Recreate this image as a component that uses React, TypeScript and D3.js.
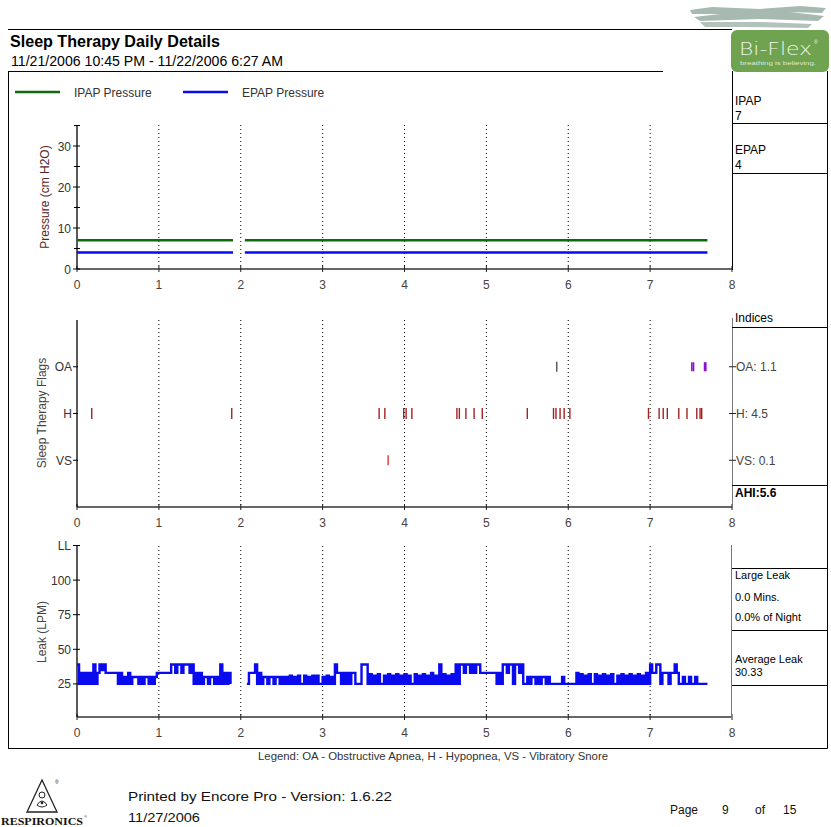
import React from 'react';
import * as d3 from 'd3';

// ---------- data ----------
const hourTicks = [0, 1, 2, 3, 4, 5, 6, 7, 8];
const gridHours = [1, 2, 3, 4, 5, 6, 7];
const pressureMajorTicks = [0, 10, 20, 30];
const pressureMinorTicks = [5, 15, 25, 35];
const sessionStart = [0, 2.05];
const sessionEnd = [1.905, 7.7];
const ipapValue = 7;
const epapValue = 4;

const flagCategories = ['OA', 'H', 'VS'];
const flagIndexLabels = ['OA: 1.1', 'H: 4.5', 'VS: 0.1'];
const hEvents = [0.18, 1.89, 3.69, 3.76, 3.99, 4.02, 4.09, 4.64, 4.67, 4.75, 4.85, 4.95, 5.5, 5.82, 5.85, 5.9, 5.95, 6.02, 6.98, 7.11, 7.16, 7.21, 7.35, 7.45, 7.57, 7.61, 7.63];
const oaEvents = [7.51, 7.53, 7.665, 7.68];
const otherOaEvents = [5.86];
const vsEvents = [3.8];

const leakTickValues = [25, 50, 75, 100, 125];
const leakTickLabels = ['25', '50', '75', '100', 'LL'];
const leakStepHours = 0.025;
const leakValues: (number | null)[] = [
  39, 25,
  33, 25, 33, 25, 33, 25,
  39,
  25, 33,
  39, 35, 39,
  33, 33, 33, 33, 33, 33,
  25, 33, 25, 30, 25, 33, 25, 30,
  30, 30, 25, 30, 25, 30, 30, 25, 30, 25, 30,
  33, 33, 33, 33, 33, 33, 33,
  39, 39, 33, 39, 39, 33, 39, 39, 39, 33, 39,
  25, 33, 25, 33, 25,
  30, 30, 25, 30, 30, 25, 30, 25,
  39,
  25, 33, 25, 33, 25,
  null, null, null, null, null, null, null,
  25, 33, 33, 33,
  39,
  25, 33, 25,
  30, 30, 25, 30, 30, 25, 30, 30, 25, 30, 25, 30,
  25, 31, 25, 30, 25, 31, 25, 25, 31, 25, 30, 25, 31, 25, 31, 25, 25, 30, 25, 31, 25, 30, 25,
  39,
  33, 33,
  25, 33, 25, 33, 25, 33,
  33, 25, 25, 25,
  39, 39, 39,
  25, 32, 25, 31, 25, 32, 25, 25, 31, 25, 32, 25, 31, 25, 32,
  25, 31, 25, 32, 25, 31, 25, 25, 32, 25, 31, 25, 32, 25, 31, 25, 33, 25, 31, 25,
  39,
  25, 32, 25, 31, 25, 32, 25,
  39, 25, 39, 39, 33, 39, 39, 33, 39, 33, 39, 39,
  33, 33, 33, 33, 33, 33, 33, 33,
  25, 33, 25,
  39, 39, 33, 39, 39, 25, 39, 39, 33, 39, 25,
  25, 30, 25, 30, 30, 25, 30, 25, 30, 30, 25, 30,
  25, 25, 25, 25, 25, 25, 30, 25, 25, 25, 25, 25, 25,
  33, 25, 32, 25, 31, 25, 32, 25, 25, 32, 25, 31, 25, 32, 25, 31, 25, 32, 25, 25, 31, 25, 32, 25, 31, 25, 32, 25, 31, 25, 32, 25, 31, 25, 33, 25,
  39, 33, 33, 39, 39, 25, 33, 33, 33, 25, 33, 33, 39, 33, 25, 25, 30, 25, 25, 30, 25, 25, 30, 25, 25, 25, 25, 25,
  25,
];

// ---------- layout ----------
const FONT = "'Liberation Sans', Arial, sans-serif";
const X0 = 77;
const X1 = 732;
const x = d3.scaleLinear().domain([0, 8]).range([X0, X1]);
const yP = d3.scaleLinear().domain([0, 35]).range([269, 125.5]);
const yF = d3.scalePoint<string>().domain(flagCategories).range([320, 507]).padding(1);
const yL = d3.scaleLinear().domain([0, 125]).range([718.5, 545.5]);

function XAxis({ y, top }: { y: number; top: number }) {
  return (
    <g>
      {gridHours.map((h) => (
        <line key={'g' + h} x1={x(h)} x2={x(h)} y1={top} y2={y} stroke="#000" strokeWidth={1} strokeDasharray="1,3" />
      ))}
      <line x1={X0} x2={X1} y1={y} y2={y} stroke="#666" strokeWidth={2} />
      {hourTicks.map((h) => (
        <g key={h}>
          <line x1={x(h)} x2={x(h)} y1={y - 3} y2={y + 3} stroke="#222" strokeWidth={1} />
          <text x={x(h)} y={y + 20} textAnchor="middle" fontSize={12} fill="#4a4040" fontFamily={FONT}>{h}</text>
        </g>
      ))}
    </g>
  );
}

export default function App() {
  const leakLine = d3
    .line<number | null>()
    .defined((d) => d != null)
    .x((_, i) => x(i * leakStepHours))
    .y((d) => yL(d as number))
    .curve(d3.curveStepAfter);

  const sessions = sessionStart.map((s, i) => [s, sessionEnd[i]]);

  return (
    <svg width={831} height={827} style={{ position: 'absolute', left: 0, top: 0, background: '#fff' }} fontFamily={FONT}>
      <rect x={0} y={0} width={831} height={827} fill="#fff" />
      {/* redaction blotch */}
      <path d="M690,10 L712,7 L760,9 L800,6 L826,8 L822,13 L790,12 L824,16 L818,21 L760,19 L700,21 L694,17 L720,14 L692,14 Z" fill="#a7bab2" />
      <path d="M700,22 L760,22 L812,24 L808,28 L740,27 L705,27 Z" fill="#b3c3bc" />

      {/* header */}
      <line x1={8} x2={732} y1={29.5} y2={29.5} stroke="#000" strokeWidth={1} />
      <text x={10} y={47} fontSize={16} fontWeight="bold" fill="#000" textLength={210} lengthAdjust="spacingAndGlyphs">Sleep Therapy Daily Details</text>
      <text x={11} y={65.5} fontSize={14} fill="#000" textLength={272} lengthAdjust="spacingAndGlyphs">11/21/2006 10:45 PM - 11/22/2006 6:27 AM</text>
      <line x1={8} x2={663} y1={71.5} y2={71.5} stroke="#000" strokeWidth={1} />

      {/* Bi-Flex logo */}
      <rect x={731} y={30} width={98} height={42} rx={6} fill="#6fa34f" />
      <text x={739} y={55} fontSize={18} fill="#eef4ea" fontFamily="'DejaVu Sans', sans-serif" fontWeight={300} textLength={73} lengthAdjust="spacingAndGlyphs">Bi-Flex</text>
      <text x={814} y={44} fontSize={5} fill="#eef4ea">®</text>
      <text x={740} y={65} fontSize={6} fill="#dfe9d8" textLength={76} lengthAdjust="spacingAndGlyphs">breathing is believing.</text>

      {/* main frame */}
      <line x1={8.5} x2={8.5} y1={71} y2={748.5} stroke="#000" strokeWidth={1} />
      <line x1={8} x2={827.5} y1={748.5} y2={748.5} stroke="#000" strokeWidth={1} />
      <line x1={827.5} x2={827.5} y1={71} y2={748.5} stroke="#000" strokeWidth={1} />

      {/* legend */}
      <line x1={15} x2={60} y1={92} y2={92} stroke="#0d6b0d" strokeWidth={2.5} />
      <text x={74} y={96.5} fontSize={12} fill="#333">IPAP Pressure</text>
      <line x1={183} x2={228} y1={92} y2={92} stroke="#0a0aee" strokeWidth={2.5} />
      <text x={242} y={96.5} fontSize={12} fill="#333">EPAP Pressure</text>

      {/* right panel top */}
      <line x1={732.5} x2={732.5} y1={71} y2={270} stroke="#000" strokeWidth={1} />
      <line x1={732} x2={827} y1={123.5} y2={123.5} stroke="#000" strokeWidth={1} />
      <line x1={732} x2={827} y1={173.5} y2={173.5} stroke="#000" strokeWidth={1} />
      <text x={735} y={105} fontSize={12} fill="#000">IPAP</text>
      <text x={735} y={120} fontSize={12} fill="#000">7</text>
      <text x={735} y={154} fontSize={12} fill="#000">EPAP</text>
      <text x={735} y={169} fontSize={12} fill="#000">4</text>

      {/* ---- pressure chart ---- */}
      <XAxis y={269} top={125} />
      <line x1={X0} x2={X0} y1={125} y2={269} stroke="#000" strokeWidth={1.3} />
      {pressureMajorTicks.map((v) => (
        <g key={v}>
          <line x1={X0 - 4} x2={X0 + 3} y1={yP(v)} y2={yP(v)} stroke="#000" strokeWidth={1} />
          <text x={X0 - 6} y={yP(v) + 4.5} textAnchor="end" fontSize={12} fill="#333">{v}</text>
        </g>
      ))}
      {pressureMinorTicks.map((v) => (
        <line key={v} x1={X0 - 3} x2={X0 + 3} y1={yP(v)} y2={yP(v)} stroke="#000" strokeWidth={1} />
      ))}
      <text transform="translate(49,197) rotate(-90)" textAnchor="middle" fontSize={12} fill="#5a2626">Pressure (cm H2O)</text>
      {sessions.map(([s, e], i) => (
        <g key={i}>
          <path d={`M${x(s)},${yP(ipapValue)}H${x(e)}`} stroke="#0d6b0d" strokeWidth={2.5} fill="none" />
          <path d={`M${x(s)},${yP(epapValue)}H${x(e)}`} stroke="#0a0aee" strokeWidth={2.5} fill="none" />
        </g>
      ))}

      {/* ---- flags chart ---- */}
      <XAxis y={507} top={320} />
      <line x1={X0} x2={X0} y1={320} y2={507} stroke="#000" strokeWidth={1.3} />
      {flagCategories.map((c) => (
        <g key={c}>
          <line x1={X0 - 4} x2={X0 + 1} y1={yF(c)!} y2={yF(c)!} stroke="#000" strokeWidth={1} />
          <text x={X0 - 5} y={(yF(c) as number) + 4.5} textAnchor="end" fontSize={12} fill="#333">{c}</text>
        </g>
      ))}
      <text transform="translate(46,413) rotate(-90)" textAnchor="middle" fontSize={12} fill="#444">Sleep Therapy Flags</text>
      <line x1={732.5} x2={732.5} y1={318} y2={508} stroke="#777" strokeWidth={1} />
      {flagCategories.map((c, i) => (
        <g key={'r' + c}>
          <line x1={729} x2={736} y1={yF(c)!} y2={yF(c)!} stroke="#222" strokeWidth={1} />
          <text x={736} y={(yF(c) as number) + 4.5} fontSize={12} fill="#444">{flagIndexLabels[i]}</text>
        </g>
      ))}
      <text x={735} y={322} fontSize={12} fill="#000">Indices</text>
      <line x1={732} x2={827} y1={327.5} y2={327.5} stroke="#000" strokeWidth={1} />
      <line x1={732} x2={827} y1={485.5} y2={485.5} stroke="#000" strokeWidth={1} />
      <text x={735} y={497} fontSize={12} fontWeight="bold" fill="#000">AHI:5.6</text>
      {hEvents.map((h, i) => (
        <line key={'h' + i} x1={x(h)} x2={x(h)} y1={yF('H')! - 5.5} y2={yF('H')! + 5.5} stroke="#a32323" strokeWidth={1.4} />
      ))}
      {oaEvents.map((h, i) => (
        <line key={'oa' + i} x1={x(h)} x2={x(h)} y1={yF('OA')! - 4.5} y2={yF('OA')! + 4.5} stroke="#8a10d0" strokeWidth={1.6} />
      ))}
      {otherOaEvents.map((h, i) => (
        <line key={'ob' + i} x1={x(h)} x2={x(h)} y1={yF('OA')! - 5} y2={yF('OA')! + 5} stroke="#333" strokeWidth={1.2} />
      ))}
      {vsEvents.map((h, i) => (
        <line key={'vs' + i} x1={x(h)} x2={x(h)} y1={yF('VS')! - 5} y2={yF('VS')! + 5} stroke="#e8303c" strokeWidth={1.4} />
      ))}

      {/* ---- leak chart ---- */}
      <XAxis y={717} top={546} />
      <line x1={X0} x2={X0} y1={546} y2={717} stroke="#000" strokeWidth={1.3} />
      {leakTickValues.map((v, i) => (
        <g key={v}>
          <line x1={X0 - 4} x2={X0 + 3} y1={yL(v)} y2={yL(v)} stroke="#000" strokeWidth={1} />
          <text x={X0 - 6} y={yL(v) + 4.5} textAnchor="end" fontSize={12} fill="#333">{leakTickLabels[i]}</text>
        </g>
      ))}
      <text transform="translate(46,632) rotate(-90)" textAnchor="middle" fontSize={12} fill="#444">Leak (LPM)</text>
      <line x1={731.5} x2={731.5} y1={545} y2={718} stroke="#777" strokeWidth={1} />
      <line x1={732} x2={827} y1={568.5} y2={568.5} stroke="#000" strokeWidth={1} />
      <line x1={732} x2={827} y1={630.5} y2={630.5} stroke="#000" strokeWidth={1} />
      <line x1={732} x2={827} y1={685.5} y2={685.5} stroke="#000" strokeWidth={1} />
      <text x={735} y={579} fontSize={11} fill="#000">Large Leak</text>
      <text x={735} y={601} fontSize={11} fill="#000">0.0 Mins.</text>
      <text x={735} y={621} fontSize={11} fill="#000">0.0% of Night</text>
      <text x={735} y={663} fontSize={11} fill="#000">Average Leak</text>
      <text x={735} y={676} fontSize={11} fill="#000">30.33</text>
      <path d={leakLine(leakValues) || ''} stroke="#0a0aee" strokeWidth={2.4} fill="none" />

      {/* footer */}
      <text x={258} y={760} fontSize={11} fill="#333" textLength={350} lengthAdjust="spacingAndGlyphs">Legend: OA - Obstructive Apnea, H - Hypopnea, VS - Vibratory Snore</text>
      <text x={128} y={801} fontSize={13} fill="#111" textLength={264} lengthAdjust="spacingAndGlyphs">Printed by Encore Pro - Version: 1.6.22</text>
      <text x={128} y={822} fontSize={13} fill="#111" textLength={72} lengthAdjust="spacingAndGlyphs">11/27/2006</text>
      <text x={670} y={814} fontSize={12} fill="#111">Page</text>
      <text x={722} y={814} fontSize={12} fill="#111">9</text>
      <text x={755} y={814} fontSize={12} fill="#111">of</text>
      <text x={783} y={814} fontSize={12} fill="#111">15</text>

      {/* Respironics logo */}
      <path d="M42,780 L57,812 L27,812 Z" fill="none" stroke="#222" strokeWidth={1.3} />
      <circle cx={42} cy={795} r={3} fill="none" stroke="#222" strokeWidth={1} />
      <path d="M37,805 Q42,797 47,805 Q42,809 37,805 Z" fill="none" stroke="#222" strokeWidth={1} />
      <circle cx={42} cy={803} r={1.3} fill="#222" />
      <text x={55} y={784} fontSize={5} fill="#222">®</text>
      <text x={1} y={825} fontSize={10} fontWeight="bold" fill="#111" fontFamily="'Liberation Serif', serif" textLength={82} lengthAdjust="spacingAndGlyphs">RESPIRONICS</text>
      <text x={84} y={818} fontSize={4} fill="#222">®</text>
    </svg>
  );
}
